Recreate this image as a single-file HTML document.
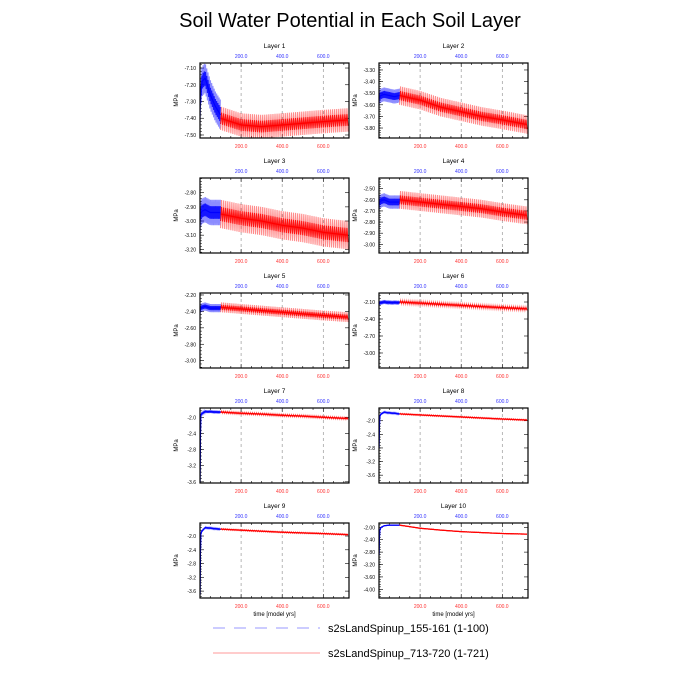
<!DOCTYPE html>
<html><head><meta charset="utf-8"><style>
html,body{margin:0;padding:0;background:#fff}
svg{display:block;font-family:"Liberation Sans",sans-serif}
</style></head><body>
<svg id="c" width="700" height="700" viewBox="0 0 700 700">
<text x="350" y="27" font-size="20" text-anchor="middle">Soil Water Potential in Each Soil Layer</text>
<g>
<line x1="213" y1="628" x2="320" y2="628" stroke="#9999ff" stroke-width="1" stroke-dasharray="12,9"/>
<text x="328" y="632" font-size="11">s2sLandSpinup_155-161 (1-100)</text>
<line x1="213" y1="653" x2="320" y2="653" stroke="#ff9999" stroke-width="1"/>
<text x="328" y="657" font-size="11">s2sLandSpinup_713-720 (1-721)</text>
</g>
</svg>
<script>
// Layer names
const layers = ["Layer 1","Layer 2","Layer 3","Layer 4","Layer 5","Layer 6","Layer 7","Layer 8","Layer 9","Layer 10"];
// y-axis domains (top, bottom)
const yTop = [-7.070,-3.24,-2.696,-2.404,-2.176,-1.941,-1.769,-1.626,-1.622,-1.861];
const yBot = [-7.518,-3.886,-3.226,-3.078,-3.089,-3.265,-3.63,-3.83,-3.80,-4.28];
// y tick labels
const yTicks = [
 ["-7.10","-7.20","-7.30","-7.40","-7.50"],
 ["-3.30","-3.40","-3.50","-3.60","-3.70","-3.80"],
 ["-2.80","-2.90","-3.00","-3.10","-3.20"],
 ["-2.50","-2.60","-2.70","-2.80","-2.90","-3.00"],
 ["-2.20","-2.40","-2.60","-2.80","-3.00"],
 ["-2.10","-2.40","-2.70","-3.00"],
 ["-2.0","-2.4","-2.8","-3.2","-3.6"],
 ["-2.0","-2.4","-2.8","-3.2","-3.6"],
 ["-2.0","-2.4","-2.8","-3.2","-3.6"],
 ["-2.00","-2.40","-2.80","-3.20","-3.60","-4.00"]
];
const xTicks = [200,400,600];
// blue run (years 0-100): years, means, half-amplitudes
const blueYears = [0,3,10,25,50,75,100];
const blueMean = [
 [-7.35,-7.25,-7.18,-7.16,-7.26,-7.33,-7.38],
 [-3.55,-3.53,-3.52,-3.51,-3.52,-3.53,-3.52],
 [-3.00,-2.95,-2.93,-2.92,-2.94,-2.94,-2.94],
 [-2.65,-2.62,-2.61,-2.60,-2.62,-2.62,-2.62],
 [-2.40,-2.36,-2.35,-2.34,-2.36,-2.36,-2.36],
 [-2.14,-2.12,-2.11,-2.10,-2.11,-2.11,-2.11],
 [-3.60,-1.95,-1.90,-1.86,-1.86,-1.87,-1.87],
 [-2.80,-1.88,-1.80,-1.75,-1.77,-1.78,-1.80],
 [-3.70,-1.95,-1.85,-1.76,-1.77,-1.79,-1.80],
 [-2.90,-2.10,-2.00,-1.95,-1.93,-1.93,-1.93]
];
const blueAmp = [0.09,0.06,0.09,0.06,0.05,0.03,0.03,0.02,0.02,0.005];
// red run (years 100-721)
const redYears = [100,200,300,400,500,600,721];
const redMean = [
 [-7.40,-7.44,-7.45,-7.44,-7.43,-7.42,-7.41],
 [-3.52,-3.56,-3.62,-3.66,-3.70,-3.73,-3.77],
 [-2.95,-2.98,-3.00,-3.03,-3.05,-3.08,-3.10],
 [-2.60,-2.62,-2.64,-2.66,-2.68,-2.71,-2.74],
 [-2.35,-2.37,-2.39,-2.41,-2.43,-2.45,-2.47],
 [-2.10,-2.12,-2.14,-2.16,-2.18,-2.20,-2.22],
 [-1.87,-1.90,-1.92,-1.95,-1.97,-2.00,-2.03],
 [-1.80,-1.83,-1.86,-1.89,-1.92,-1.95,-1.98],
 [-1.80,-1.83,-1.86,-1.89,-1.91,-1.93,-1.96],
 [-1.93,-2.03,-2.09,-2.14,-2.17,-2.20,-2.22]
];
const redAmp = [0.07,0.08,0.1,0.08,0.06,0.035,0.03,0.02,0.02,0.006];

const NS="http://www.w3.org/2000/svg";
const svg=document.getElementById('c');
function mk(tag,attrs,parent){const e=document.createElementNS(NS,tag);for(const k in attrs)e.setAttribute(k,attrs[k]);(parent||svg).appendChild(e);return e;}
const XMAX=725, W=149, H=75;
const colX=[200,379], rowY=[63,178,293,408,523];
function interp(xs,ys,x){for(let i=0;i<xs.length-1;i++){if(x<=xs[i+1]){const t=(x-xs[i])/(xs[i+1]-xs[i]);return ys[i]+t*(ys[i+1]-ys[i]);}}return ys[ys.length-1];}

layers.forEach((name,i)=>{
 const x0=colX[i%2], y0=rowY[Math.floor(i/2)];
 const sx=v=>x0+v/XMAX*W;
 const sy=v=>y0+(v-yTop[i])/(yBot[i]-yTop[i])*H;
 const g=mk('g',{});
 
 
 const t=mk('text',{x:x0+W/2,y:y0-15,'font-size':6.5,'text-anchor':'middle'},g);t.textContent=name;
 
 
 const cp=mk('clipPath',{id:'cp'+i},g);mk('rect',{x:x0,y:y0,width:W,height:H},cp);
 xTicks.forEach(v=>{
  const gl=mk('line',{x1:sx(v),x2:sx(v),y1:y0,y2:y0+H,stroke:'#999','stroke-width':0.7,'stroke-dasharray':'3,3'},g);
  
  
  const tt=mk('text',{x:sx(v),y:y0-5,'font-size':5,'text-anchor':'middle',fill:'#3333ff'},g);tt.textContent=v.toFixed(1);
  
  
  const tb=mk('text',{x:sx(v),y:y0+H+10,'font-size':5,'text-anchor':'middle',fill:'#ff3333'},g);tb.textContent=v.toFixed(1);
  
  
 });
 for(let v=50;v<XMAX;v+=50){const L=v%200===0?4:2;
  mk('line',{x1:sx(v),x2:sx(v),y1:y0,y2:y0+L,stroke:'#000','stroke-width':0.6},g);
  mk('line',{x1:sx(v),x2:sx(v),y1:y0+H,y2:y0+H-L,stroke:'#000','stroke-width':0.6},g);}
 const tv=yTicks[i].map(Number);const step=tv[1]-tv[0];
 tv.forEach((v,j)=>{const y=sy(v);
  mk('line',{x1:x0,x2:x0+4,y1:y,y2:y,stroke:'#000','stroke-width':0.6},g);
  mk('line',{x1:x0+W,x2:x0+W-4,y1:y,y2:y,stroke:'#000','stroke-width':0.6},g);
  const yl=mk('text',{x:x0-4,y:y+2,'font-size':5,'text-anchor':'end'},g);yl.textContent=yTicks[i][j];
  
  
 });
 for(let k=-10;k<60;k++){const v=tv[0]+step*k/5;const y=sy(v);if(y<y0||y>y0+H)continue;
  mk('line',{x1:x0,x2:x0+2,y1:y,y2:y,stroke:'#000','stroke-width':0.5},g);}
 const yt=mk('text',{x:0,y:0,'font-size':6,'text-anchor':'middle',transform:`translate(${x0-22},${y0+H/2}) rotate(-90)`},g);yt.textContent='MPa';
 
 
 function band(years,means,amp,color,from,to,stepY,id){
  const sg=mk('g',{'clip-path':`url(#cp${i})`},g);
  
  
  let pts=[],pts2=[],k=0;
  for(let yr=from;yr<=to;yr+=stepY,k++){const m=interp(years,means,yr);const s=k%2?1:-1;
   pts.push(sx(yr).toFixed(2)+','+sy(m+s*amp).toFixed(2));
   pts2.push(sx(yr).toFixed(2)+','+sy(m+s*amp*0.5).toFixed(2));}
  mk('polyline',{points:pts.join(' '),fill:'none',stroke:color,'stroke-width':1.1,'stroke-opacity':0.45},sg);
  mk('polyline',{points:pts2.join(' '),fill:'none',stroke:color,'stroke-width':1.1,'stroke-opacity':0.85},sg);
  const ml=[];for(let yr=from;yr<=to;yr+=2)ml.push(sx(yr).toFixed(2)+','+sy(interp(years,means,yr)).toFixed(2));
  mk('polyline',{points:ml.join(' '),fill:'none',stroke:color,'stroke-width':1.2},sg);
 }
 band(redYears,redMean[i],redAmp[i],'#ff0000',100,721,5,'series-red');
 band(blueYears,blueMean[i],blueAmp[i],'#0000ff',0,100,3,'series-blue');
 const fr=mk('rect',{x:x0,y:y0,width:W,height:H,fill:'none',stroke:'#000','stroke-width':1.2},g);
 
 
 if(i>=8){const xl=mk('text',{x:x0+W/2,y:y0+H+18,'font-size':6,'text-anchor':'middle'},g);xl.textContent='time [model yrs]';
  
  }
});
</script>
</body></html>
